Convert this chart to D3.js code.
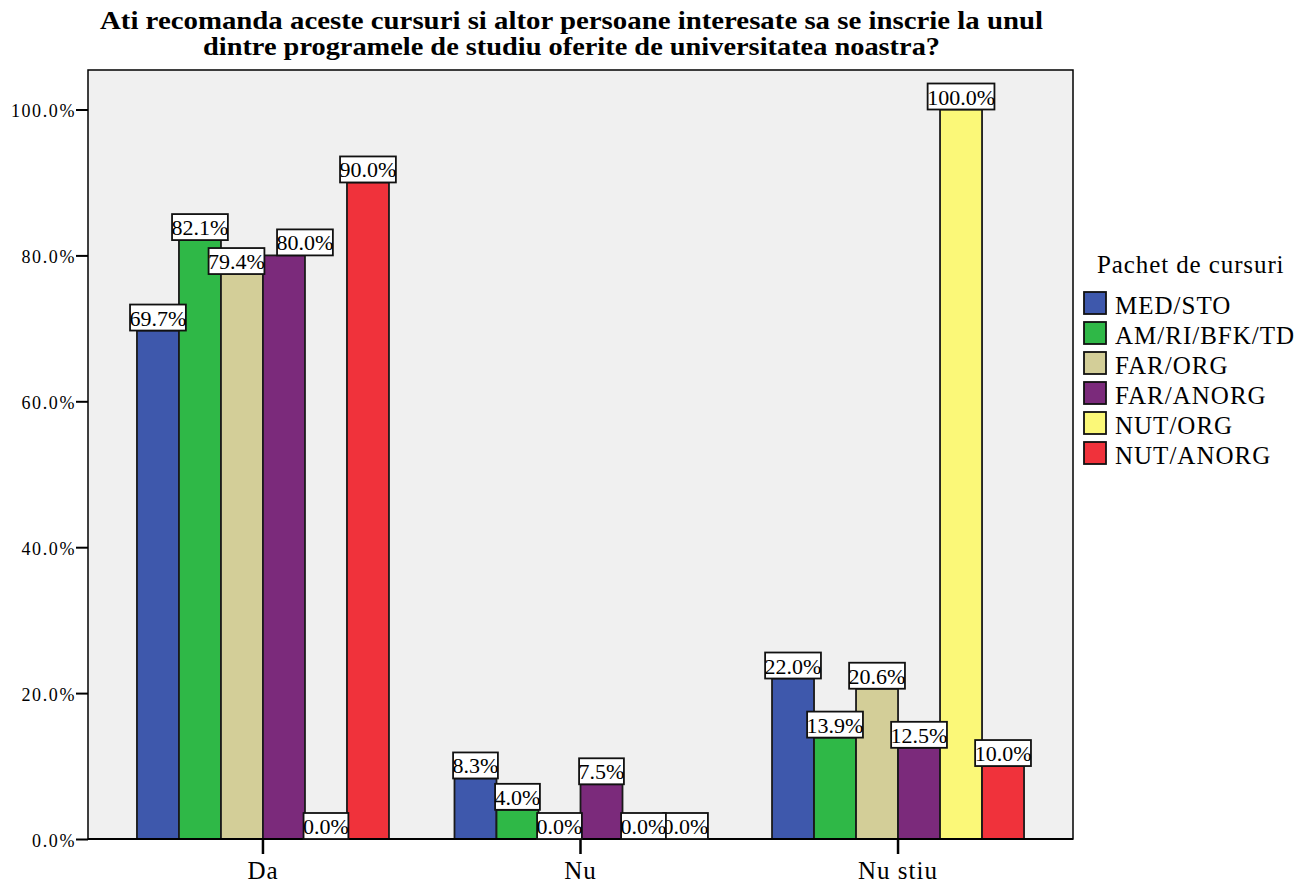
<!DOCTYPE html>
<html><head><meta charset="utf-8">
<script src="https://cdn.jsdelivr.net/npm/d3@7"></script>
<style>body{margin:0;background:#fff}svg{display:block}</style>
</head><body>
<svg id="chart" width="1309" height="885"></svg>
<script>
const titleLines = ["Ati recomanda aceste cursuri si altor persoane interesate sa se inscrie la unul",
                    "dintre programele de studiu oferite de universitatea noastra?"];
const categories = ["Da", "Nu", "Nu stiu"];
const seriesNames = ["MED/STO", "AM/RI/BFK/TD", "FAR/ORG", "FAR/ANORG", "NUT/ORG", "NUT/ANORG"];
const seriesColors = ["#3e58ac", "#2fb847", "#d3ce98", "#7b2a7b", "#fbf878", "#f0323b"];
const valMED = [69.7, 8.3, 22.0];
const valAM  = [82.1, 4.0, 13.9];
const valFARO = [79.4, 0.0, 20.6];
const valFARA = [80.0, 7.5, 12.5];
const valNUTO = [0.0, 0.0, 100.0];
const valNUTA = [90.0, 0.0, 10.0];
const yTicks = [0, 20, 40, 60, 80, 100];
const legendTitle = "Pachet de cursuri";

const FONT = "'Liberation Serif', 'Times New Roman', serif";
const seriesValues = [valMED, valAM, valFARO, valFARA, valNUTO, valNUTA];
const svg = d3.select("#chart");

const plot = {left: 88, right: 1073, top: 70, bottom: 839};
const y = d3.scaleLinear().domain([0, 100]).range([plot.bottom, plot.bottom - 729.5]);
const x0 = d3.scaleBand().domain(categories).range([plot.left, plot.right]).paddingInner(0).paddingOuter(0.051);
const x1 = d3.scaleBand().domain(seriesNames).range([0, x0.bandwidth()]).paddingInner(0).paddingOuter(0.78);

// plot background
svg.append("rect").attr("x", plot.left).attr("y", plot.top)
  .attr("width", plot.right - plot.left).attr("height", plot.bottom - plot.top)
  .attr("fill", "#f0f0f0").attr("stroke", "#000").attr("stroke-width", 1.5);

// title
svg.append("g").selectAll("text").data(titleLines).join("text")
  .attr("x", 571.5).attr("y", (d, i) => 29 + i * 26)
  .attr("text-anchor", "middle").style("font-family", FONT).style("font-weight", "bold").style("font-size", "25px")
  .attr("textLength", (d, i) => i === 0 ? 943 : 737).attr("lengthAdjust", "spacingAndGlyphs")
  .text(d => d);

// bars
const data = [];
categories.forEach((c, ci) => seriesNames.forEach((s, si) => data.push({c, s, si, v: seriesValues[si][ci]})));

svg.append("g").selectAll("rect").data(data).join("rect")
  .attr("x", d => x0(d.c) + x1(d.s)).attr("width", x1.bandwidth())
  .attr("y", d => y(d.v)).attr("height", d => y(0) - y(d.v))
  .attr("fill", d => seriesColors[d.si]).attr("stroke", "#1a1a1a").attr("stroke-width", 1.8);

// y axis
const yAxis = d3.axisLeft(y).tickValues(yTicks).tickFormat(d => d.toFixed(1) + "%").tickSize(12).tickPadding(0);
const ya = svg.append("g").attr("transform", `translate(${plot.left},0)`).call(yAxis);
ya.select(".domain").remove();
ya.selectAll(".tick line").attr("stroke", "#000").attr("stroke-width", 2);
ya.selectAll(".tick text").style("font-family", FONT).style("font-size", "18px").style("letter-spacing", "1.6px")
  .attr("fill", "#000").attr("dy", "0.4em");

// x axis
const xAxis = d3.axisBottom(x0).tickSize(15).tickPadding(6);
const xa = svg.append("g").attr("transform", `translate(0,${plot.bottom})`).call(xAxis);
xa.select(".domain").attr("stroke", "#000").attr("stroke-width", 2).attr("d", `M${plot.left},0H${plot.right}`);
xa.selectAll(".tick line").attr("stroke", "#000").attr("stroke-width", 2.5);
xa.selectAll(".tick text").style("font-family", FONT).style("font-size", "25px").style("letter-spacing", "1px")
  .attr("fill", "#000").attr("dy", "0.75em");

// value labels (with simple collision avoidance inside each group)
const LFS = 22, LH = 26;
const labels = data.map(d => {
  const cx = x0(d.c) + x1(d.s) + x1.bandwidth() / 2;
  return {d, cx, dy: 0, top: y(d.v) - LH, bottom: y(d.v), text: d.v.toFixed(1) + "%"};
});
const measure = svg.append("text").style("font-family", FONT).style("font-size", LFS + "px");
labels.forEach(l => { measure.text(l.text); l.w = measure.node().getComputedTextLength() - 1; });
measure.remove();
categories.forEach(c => {
  const grp = labels.filter(l => l.d.c === c);
  for (let i = 0; i < grp.length - 1; i++) {
    const a = grp[i], b = grp[i + 1];
    const hOverlap = (a.cx + a.w / 2) - (b.cx - b.w / 2);
    const vOverlap = Math.min(a.bottom, b.bottom) - Math.max(a.top, b.top);
    if (hOverlap > 8 && vOverlap > 10) {
      const lower = a.d.v <= b.d.v ? a : b;
      a.cx -= x1.bandwidth() * 0.13;
      b.cx += x1.bandwidth() * 0.5;
      lower.dy = x1.bandwidth() * 0.34;
    }
  }
});
const lg = svg.append("g");
labels.slice().reverse().forEach(l => {
  const g = lg.append("g").attr("transform", `translate(0,${l.dy})`);
  g.append("rect").attr("x", l.cx - l.w / 2).attr("y", l.top)
    .attr("width", l.w).attr("height", LH)
    .attr("fill", "#fff").attr("stroke", "#111").attr("stroke-width", 1.8);
  g.append("text").attr("x", l.cx).attr("y", l.bottom - 5)
    .attr("text-anchor", "middle").style("font-family", FONT).style("font-size", LFS + "px").text(l.text);
});

// legend
const leg = svg.append("g");
leg.append("text").attr("x", 1097).attr("y", 273).style("font-family", FONT).style("font-size", "25px")
  .style("letter-spacing", "0.9px").text(legendTitle);
const items = leg.selectAll("g").data(seriesNames).join("g")
  .attr("transform", (d, i) => `translate(1084,${292 + i * 30})`);
items.append("rect").attr("width", 22).attr("height", 22)
  .attr("fill", (d, i) => seriesColors[i]).attr("stroke", "#111").attr("stroke-width", 1.8);
items.append("text").attr("x", 31).attr("y", 22).style("font-family", FONT).style("font-size", "25px")
  .style("letter-spacing", "1px").text(d => d);
</script>
</body></html>
